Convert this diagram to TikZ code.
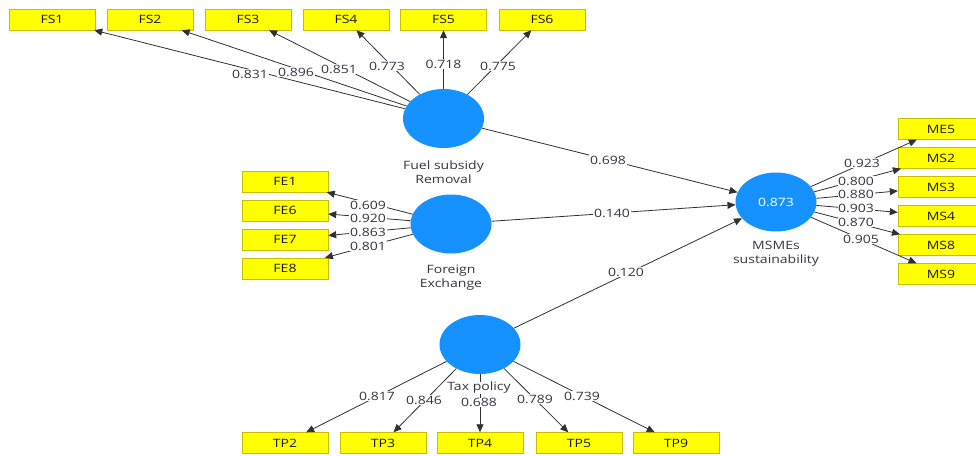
\documentclass[tikz,border=0pt]{standalone}
\usepackage{fontspec}
\setmainfont{Open Sans}[FakeStretch=1.22]
\usetikzlibrary{arrows.meta,shapes.geometric}
\definecolor{lvblue}{HTML}{1592FF}
\definecolor{ybox}{HTML}{FFFF00}
\definecolor{yborder}{HTML}{C8BE00}
\definecolor{lbltxt}{HTML}{353545}
\definecolor{linec}{HTML}{303030}
\begin{document}
\begin{tikzpicture}[x=1pt,y=-1pt,
  font=\fontsize{11.5}{13.5}\selectfont,
  ind/.style={draw=yborder, fill=ybox, minimum width=86pt, minimum height=21pt, inner sep=0pt, text=black!90},
  latent/.style={ellipse, fill=lvblue, minimum width=81pt, minimum height=59pt, inner sep=0pt},
  arr/.style={draw=linec, line width=0.8pt, -{Triangle[length=8pt,width=7pt]}},
  lbl/.style={fill=white, inner sep=0.6pt, text=lbltxt},
  lvname/.style={fill=white, inner sep=0.6pt, text=lbltxt, align=center}]
\useasboundingbox (0,0) rectangle (976,455);
\clip (0,0) rectangle (976,455);
\fill[white] (0,0) rectangle (976,455);

% latent variables
\node[latent] (fsr) at (443.5,118.5) {};
\node[latent] (fex) at (451,224) {};
\node[latent] (tax) at (480,344.5) {};
\node[latent, text=white] (msm) at (776,202) {0.873};

% indicators
\node[ind] (FS1) at (52,19.5) {FS1};
\node[ind] (FS2) at (150,19.5) {FS2};
\node[ind] (FS3) at (248,19.5) {FS3};
\node[ind] (FS4) at (346,19.5) {FS4};
\node[ind] (FS5) at (443.5,19.5) {FS5};
\node[ind] (FS6) at (542,19.5) {FS6};

\node[ind] (FE1) at (285,181.5) {FE1};
\node[ind] (FE6) at (285,210.5) {FE6};
\node[ind] (FE7) at (285,239.5) {FE7};
\node[ind] (FE8) at (285,268.5) {FE8};

\node[ind] (ME5) at (941,129) {ME5};
\node[ind] (MS2) at (941,158) {MS2};
\node[ind] (MS3) at (941,187) {MS3};
\node[ind] (MS4) at (941,216) {MS4};
\node[ind] (MS8) at (941,245) {MS8};
\node[ind] (MS9) at (941,274) {MS9};

\node[ind] (TP2) at (285,443) {TP2};
\node[ind] (TP3) at (383,443) {TP3};
\node[ind] (TP4) at (480,443) {TP4};
\node[ind] (TP5) at (579,443) {TP5};
\node[ind] (TP9) at (676,443) {TP9};

% connectors
\foreach \t in {FS1,FS2,FS3,FS4,FS5,FS6} \draw[arr] (fsr) -- (\t);
\foreach \t in {FE1,FE6,FE7,FE8} \draw[arr] (fex) -- (\t);
\foreach \t in {ME5,MS2,MS3,MS4,MS8,MS9} \draw[arr] (msm) -- (\t);
\foreach \t in {TP2,TP3,TP4,TP5,TP9} \draw[arr] (tax) -- (\t);
\draw[arr] (fsr) -- (msm);
\draw[arr] (fex) -- (msm);
\draw[arr] (tax) -- (msm);

% latent names
\node[lvname] (nfsr) at (443.5,172) {Fuel subsidy\\Removal};
\node[lvname] (nfex) at (451,277.5) {Foreign\\Exchange};
\node[lvname] (nmsm) at (776,253.5) {MSMEs\\sustainability};
\node[lvname] (ntax) at (479,388) {Tax policy};

% loadings
\node[lbl] (l1) at (250,74) {0.831};
\node[lbl] (l2) at (296,72) {0.896};
\node[lbl] (l3) at (339,69) {0.851};
\node[lbl] (l4) at (387,66) {0.773};
\node[lbl] (l5) at (443.5,64) {0.718};
\node[lbl] (l6) at (498,66) {0.775};

\node[lbl] (e1) at (368,205) {0.609};
\node[lbl] (e2) at (368,218.5) {0.920};
\node[lbl] (e3) at (368,232) {0.863};
\node[lbl] (e4) at (368,246) {0.801};

\node[lbl] (m1) at (862,163) {0.923};
\node[lbl] (m2) at (856,181) {0.800};
\node[lbl] (m3) at (856,194.5) {0.880};
\node[lbl] (m4) at (856,208) {0.903};
\node[lbl] (m5) at (856,222.5) {0.870};
\node[lbl] (m6) at (861,239) {0.905};

\node[lbl] (t1) at (377,396) {0.817};
\node[lbl] (t2) at (424,400) {0.846};
\node[lbl] (t3) at (479,402.5) {0.688};
\node[lbl] (t4) at (535,399) {0.789};
\node[lbl] (t5) at (582,396) {0.739};

% path coefficients
\node[lbl] (p1) at (608,160) {0.698};
\node[lbl] (p2) at (612,213) {0.140};
\node[lbl] (p3) at (626,272) {0.120};
\end{tikzpicture}
\end{document}
